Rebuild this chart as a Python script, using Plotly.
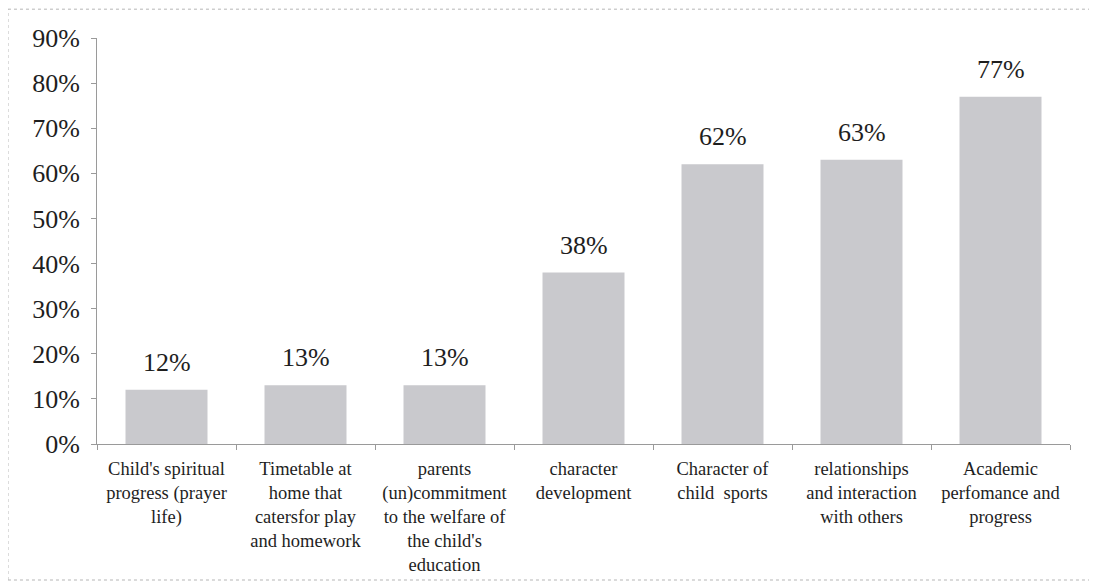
import plotly.graph_objects as go

categories = [
    "Child's spiritual<br>progress (prayer<br>life)",
    "Timetable at<br>home that<br>catersfor play<br>and homework",
    "parents<br>(un)commitment<br>to the welfare of<br>the child's<br>education",
    "character<br>development",
    "Character of<br>child  sports",
    "relationships<br>and interaction<br>with others",
    "Academic<br>perfomance and<br>progress",
]
values = [0.12, 0.13, 0.13, 0.38, 0.62, 0.63, 0.77]
y_ticks = [0, 0.1, 0.2, 0.3, 0.4, 0.5, 0.6, 0.7, 0.8, 0.9]

font_family = "Liberation Serif"
text_color = "#1e1e1e"

fig = go.Figure()
fig.add_trace(go.Bar(
    x=categories,
    y=values,
    marker=dict(color="#c9c9cd", line=dict(width=0)),
    width=0.59,
    hoverinfo="x+y",
))

for c, v in zip(categories, values):
    fig.add_annotation(
        x=c, y=v, text=f"{v:.0%}", showarrow=False,
        yanchor="bottom", yshift=11,
        font=dict(family=font_family, size=26, color=text_color),
    )

border = dict(color="#b5b5b5", width=1, dash="dot")
fig.update_layout(
    width=1089, height=575,
    margin=dict(l=89, r=27, t=30, b=139),
    paper_bgcolor="white",
    plot_bgcolor="white",
    showlegend=False,
    font=dict(family=font_family, color=text_color),
    shapes=[
        dict(type="line", xref="paper", yref="paper", x0=-0.0915, x1=1.03, y0=1.071, y1=1.071, line=border),
        dict(type="line", xref="paper", yref="paper", x0=-0.0915, x1=-0.0915, y0=-0.335, y1=1.071, line=border),
        dict(type="line", xref="paper", yref="paper", x0=-0.0915, x1=1.03, y0=-0.335, y1=-0.335, line=border),
    ],
)
fig.update_xaxes(
    showline=True, linecolor="#9a9a9a", linewidth=1,
    ticks="outside", ticklen=5, tickcolor="#9a9a9a",
    tickson="boundaries",
    tickfont=dict(family=font_family, size=18.5, color=text_color),
    tickangle=0,
    showgrid=False,
    ticklabelstandoff=8,
    automargin=False,
)
fig.update_yaxes(
    range=[0, 0.9],
    tickvals=y_ticks,
    tickformat=".0%",
    showline=True, linecolor="#9a9a9a", linewidth=1,
    ticks="outside", ticklen=5, tickcolor="#9a9a9a",
    tickfont=dict(family=font_family, size=26, color=text_color),
    showgrid=False, zeroline=False,
    ticklabelstandoff=6,
    automargin=False,
)

fig.write_html("out.html")
